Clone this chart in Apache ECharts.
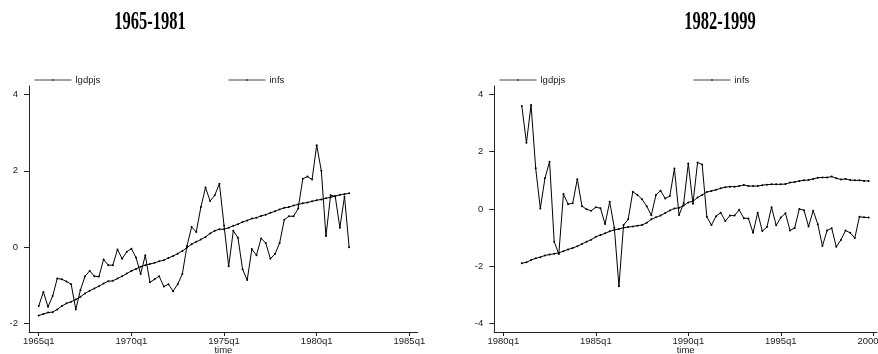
<!DOCTYPE html>
<html><head><meta charset="utf-8">
<script src="https://cdn.jsdelivr.net/npm/echarts@6/dist/echarts.min.js"></script>
<style>html,body{margin:0;padding:0;background:#fff}#c{width:878px;height:354px}</style>
</head><body><div id="c"></div>
<script>
// Quarters counted Stata-style: 1960q1 = 0
const leftTitle = '1965-1981';
const rightTitle = '1982-1999';
const leftFirstQuarter = 20;   // 1965q1
const rightFirstQuarter = 84;  // 1981q1

const leftLgdpjs = [
  -1.79, -1.75, -1.71, -1.70, -1.63, -1.54, -1.47, -1.43, -1.37, -1.30,
  -1.21, -1.14, -1.08, -1.02, -0.95, -0.89, -0.88, -0.82, -0.76, -0.69,
  -0.62, -0.57, -0.51, -0.47, -0.44, -0.41, -0.37, -0.34, -0.28, -0.23,
  -0.17, -0.10, -0.01, 0.08, 0.14, 0.20, 0.27, 0.36, 0.43, 0.47,
  0.47, 0.51, 0.56, 0.60, 0.66, 0.70, 0.75, 0.77, 0.82, 0.85,
  0.90, 0.94, 0.99, 1.03, 1.05, 1.09, 1.12, 1.15, 1.17, 1.20,
  1.23, 1.25, 1.28, 1.31, 1.34, 1.37, 1.39, 1.41
];
const leftInfs = [
  -1.54, -1.17, -1.56, -1.28, -0.82, -0.84, -0.90, -0.97, -1.63, -1.12,
  -0.76, -0.62, -0.76, -0.77, -0.32, -0.47, -0.47, -0.06, -0.30, -0.12,
  -0.04, -0.27, -0.70, -0.21, -0.92, -0.84, -0.76, -1.03, -0.97, -1.15,
  -0.97, -0.70, 0.03, 0.53, 0.40, 1.05, 1.56, 1.21, 1.36, 1.66,
  0.57, -0.50, 0.43, 0.25, -0.58, -0.86, -0.05, -0.21, 0.23, 0.11,
  -0.30, -0.18, 0.11, 0.72, 0.81, 0.81, 1.01, 1.79, 1.85, 1.77,
  2.67, 2.00, 0.29, 1.36, 1.33, 0.51, 1.33, 0.00
];
const rightLgdpjs = [
  -1.89, -1.86, -1.78, -1.72, -1.68, -1.62, -1.59, -1.56, -1.53, -1.47,
  -1.41, -1.36, -1.30, -1.22, -1.14, -1.07, -0.97, -0.91, -0.85, -0.78,
  -0.73, -0.70, -0.65, -0.63, -0.61, -0.58, -0.56, -0.48, -0.36, -0.29,
  -0.23, -0.14, -0.05, 0.02, 0.04, 0.12, 0.23, 0.27, 0.40, 0.49,
  0.59, 0.63, 0.67, 0.72, 0.76, 0.78, 0.78, 0.80, 0.84, 0.80,
  0.80, 0.80, 0.83, 0.85, 0.86, 0.86, 0.86, 0.87, 0.92, 0.94,
  0.98, 1.00, 1.01, 1.05, 1.09, 1.10, 1.10, 1.13, 1.07, 1.03,
  1.05, 1.01, 1.00, 1.00, 0.98, 0.98
];
const rightInfs = [
  3.59, 2.31, 3.63, 1.42, 0.02, 1.07, 1.65, -1.14, -1.57, 0.52,
  0.17, 0.20, 1.04, 0.10, -0.01, -0.06, 0.06, 0.03, -0.52, 0.25,
  -0.65, -2.69, -0.56, -0.36, 0.60, 0.49, 0.34, 0.10, -0.22, 0.49,
  0.64, 0.37, 0.45, 1.41, -0.21, 0.20, 1.59, 0.18, 1.62, 1.55,
  -0.27, -0.56, -0.25, -0.13, -0.42, -0.23, -0.23, -0.03, -0.32, -0.33,
  -0.83, -0.13, -0.77, -0.63, 0.06, -0.57, -0.30, -0.15, -0.75, -0.66,
  0.00, -0.04, -0.61, -0.06, -0.53, -1.29, -0.75, -0.67, -1.32, -1.08,
  -0.75, -0.83, -1.01, -0.27, -0.29, -0.30
];

const leftXTicks = [20, 40, 60, 80, 100];     // 1965q1 .. 1985q1
const rightXTicks = [80, 100, 120, 140, 160];  // 1980q1 .. 2000q1
const leftYTicks = [-2, 0, 2, 4];
const rightYTicks = [-4, -2, 0, 2, 4];

function qLabel(q) { return (1960 + Math.floor(q / 4)) + 'q' + (q % 4 + 1); }
function pairs(first, arr) { return arr.map((v, i) => [first + i, v]); }

const FONT = 'Liberation Sans, Arial, sans-serif';
const TXT = '#1a1a1a';

function xAxis(gi, min, max, ticks) {
  return {
    type: 'value', gridIndex: gi, min: min, max: max,
    name: 'time', nameLocation: 'middle', nameGap: 13, nameMoveOverlap: false,
    nameTextStyle: { fontFamily: FONT, fontSize: 9.5, color: TXT },
    splitLine: { show: false },
    axisLine: { onZero: false, lineStyle: { color: '#222', width: 1 } },
    axisTick: { customValues: ticks, length: 4, lineStyle: { color: '#222' } },
    axisLabel: { customValues: ticks, formatter: v => qLabel(Math.round(v)), margin: 4,
      fontFamily: FONT, fontSize: 9.5, color: TXT, hideOverlap: false }
  };
}
function yAxis(gi, min, max, ticks) {
  return {
    type: 'value', gridIndex: gi, min: min, max: max,
    splitLine: { show: false },
    axisLine: { show: true, onZero: false, lineStyle: { color: '#222', width: 1 } },
    axisTick: { show: true, customValues: ticks, length: 5, lineStyle: { color: '#222' } },
    axisLabel: { customValues: ticks, margin: 11, fontFamily: FONT, fontSize: 9.5, color: TXT }
  };
}
function ser(name, gi, data) {
  return {
    name: name, type: 'line', xAxisIndex: gi, yAxisIndex: gi, data: data,
    symbol: 'circle', symbolSize: 2, showSymbol: true,
    itemStyle: { color: '#000' },
    lineStyle: { color: '#000', width: 1 },
    emphasis: { disabled: true }
  };
}
function legend(name, left) {
  return {
    data: [name], left: left, top: 70, itemWidth: 37, itemHeight: 2.5, itemGap: 4,
    selectedMode: false,
    lineStyle: { width: 1, color: '#444' },
    itemStyle: { color: '#444' },
    textStyle: { fontFamily: FONT, fontSize: 9.5, color: TXT, padding: [0, 0, 0, -1] }
  };
}

const chart = echarts.init(document.getElementById('c'), null, { renderer: 'canvas' });
chart.setOption({
  animation: false,
  backgroundColor: '#fff',
  graphic: [
    { type: 'text', x: 150, y: 23, scaleX: 0.66,
      style: { text: leftTitle, fontFamily: 'Liberation Serif, Times New Roman, serif', fontWeight: 'bold',
        fontSize: 25, fill: '#000', align: 'center', verticalAlign: 'middle' } },
    { type: 'text', x: 720, y: 23, scaleX: 0.66,
      style: { text: rightTitle, fontFamily: 'Liberation Serif, Times New Roman, serif', fontWeight: 'bold',
        fontSize: 25, fill: '#000', align: 'center', verticalAlign: 'middle' } }
  ],
  legend: [legend('lgdpjs', 29), legend('infs', 223), legend('lgdpjs', 494), legend('infs', 688)],
  grid: [
    { left: 29, width: 388.7, top: 86, bottom: 22, outerBoundsMode: 'none', containLabel: false },
    { left: 494.3, width: 382.7, top: 86, bottom: 22, outerBoundsMode: 'none', containLabel: false }
  ],
  xAxis: [xAxis(0, 17.9, 101.8, leftXTicks), xAxis(1, 78.05, 160.8, rightXTicks)],
  yAxis: [yAxis(0, -2.22, 4.22, leftYTicks), yAxis(1, -4.29, 4.29, rightYTicks)],
  series: [
    ser('lgdpjs', 0, pairs(leftFirstQuarter, leftLgdpjs)),
    ser('infs', 0, pairs(leftFirstQuarter, leftInfs)),
    ser('lgdpjs', 1, pairs(rightFirstQuarter, rightLgdpjs)),
    ser('infs', 1, pairs(rightFirstQuarter, rightInfs))
  ]
});
</script></body></html>
